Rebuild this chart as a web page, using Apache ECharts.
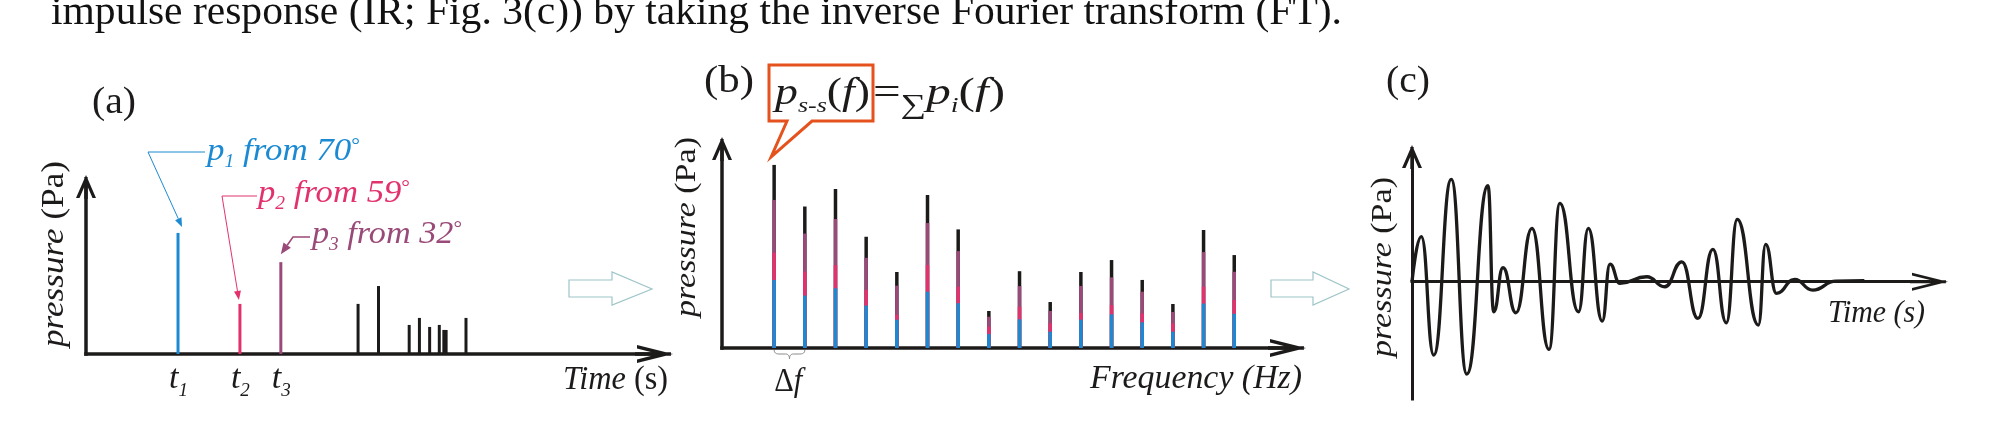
<!DOCTYPE html>
<html><head><meta charset="utf-8">
<script src="https://cdn.jsdelivr.net/npm/echarts@6/dist/echarts.min.js"></script>
<style>html,body{margin:0;padding:0;background:#fff}#c{width:2014px;height:423px}</style>
</head><body><div id="c"></div>
<script>
// ---------------- data ----------------
// (a) arrivals
const arrivalIndex = ['1', '2', '3'];
const arrivalAngles = ['70', '59', '32'];
const arrivalTimes = [16.2, 27.1, 34.3];
const arrivalAmps = [72.5, 30.0, 55.0];
const reflTimes = [47.9, 51.5, 56.9, 58.7, 60.5, 62.2, 63.0, 63.4, 66.9];
const reflAmps = [30.0, 40.7, 17.4, 21.6, 16.2, 17.4, 14.4, 14.4, 21.6];
// (b) spectrum components per frequency bin (units of Δf)
const freqBins = [1, 2, 3, 4, 5, 6, 7, 8, 9, 10, 11, 12, 13, 14, 15, 16];
const specP1 = [34.2, 26.3, 30.0, 21.3, 14.2, 28.3, 22.5, 7.0, 14.4, 8.2, 14.2, 16.9, 12.9, 8.2, 22.3, 17.2];
const specP2 = [13.7, 12.1, 11.7, 7.9, 2.5, 13.4, 8.3, 3.7, 6.3, 4.2, 3.4, 4.7, 4.5, 4.2, 8.5, 6.9];
const specP3 = [26.5, 19.1, 23.1, 16.1, 14.6, 21.1, 17.9, 5.0, 10.4, 6.2, 13.6, 13.9, 10.9, 5.7, 17.4, 14.2];
const specRest = [17.6, 13.6, 15.1, 10.6, 6.9, 14.1, 10.9, 2.9, 7.5, 4.5, 7.0, 8.7, 5.9, 4.0, 11.1, 8.4];
// (c) impulse response
const irTime = [0, 1.8, 4.2, 7.6, 10.6, 14.7, 15.8, 17.6, 20.1, 23.2, 26.5, 28.6, 32.2, 34.1, 36.8, 38.3, 40.2, 45.4, 48.9, 52.2, 55.3, 58.2, 60.8, 62.9, 67.0, 68.4, 70.5, 74.0, 77.5, 82.0, 87.5];
const irPressure = [0, 36.1, -58.8, 82.1, -74.0, 77.0, -24.1, 11.2, -24.9, 42.8, -54.2, 62.9, -24.1, 42.8, -31.5, 14.2, -1.3, 4.0, -4.0, 16.0, -29.4, 26.0, -32.9, 50.0, -34.7, 30.0, -9.3, 1.9, -6.7, 0.5, 0.8];

// ---------------- style ----------------
const INK = '#1d1a1a';
const BLUE = '#1b8ad3', PINK = '#e2326e', PURPLE = '#9a4a78', ORANGE = '#e5521d', HOLLOW = '#9fc5c8';
const FONT = '"Liberation Serif", "DejaVu Serif", serif';
const X_ARROW = 'path://M9,0 L18,36 L14.4,36 L9,14.4 L3.6,36 L0,36 Z M7.3,2 L10.7,2 L10.7,38 L7.3,38 Z';
const X_ARROW_THIN = 'path://M9,0 L18,36 L15.3,36 L9,10.8 L2.7,36 L0,36 Z M7.5,2 L10.5,2 L10.5,38 L7.5,38 Z';
const Y_ARROW = 'path://M10,0 L20,23 L16.5,23 L10,8 L3.5,23 L0,23 Z M8.3,2 L11.7,2 L11.7,24 L8.3,24 Z';

function axLine(sym, size, w, onZero) {
  return { show: true, onZero: !!onZero, symbol: ['none', sym], symbolSize: size,
    lineStyle: { color: INK, width: w, cap: 'square' } };
}
const hid = { axisTick: { show: false }, axisLabel: { show: false }, splitLine: { show: false } };

// cumulative heights so the four components sit on top of each other
const cum1 = specP1.slice();
const cum2 = cum1.map((v, i) => v + specP2[i]);
const cum3 = cum2.map((v, i) => v + specP3[i]);
const cum4 = cum3.map((v, i) => v + specRest[i]);
const specBar = (vals, color) => ({ type: 'bar', xAxisIndex: 1, yAxisIndex: 1, barWidth: 3.5, barGap: '-100%',
  itemStyle: { color: color }, data: freqBins.map((f, i) => [f, vals[i]]) });

const chart = echarts.init(document.getElementById('c'), null, { renderer: 'canvas', width: 2014, height: 423 });

const option = {
  animation: false,
  backgroundColor: '#fff',
  grid: [
    { left: 86, top: 187, width: 568, height: 167, outerBoundsMode: 'none' },
    { left: 722, top: 149, width: 565, height: 199, outerBoundsMode: 'none' },
    { left: 1412, top: 157, width: 517, height: 242, outerBoundsMode: 'none' }
  ],
  xAxis: [
    Object.assign({ gridIndex: 0, type: 'value', min: 0, max: 100, axisLine: axLine(X_ARROW, [18, 38], 3.5, false) }, hid),
    Object.assign({ gridIndex: 1, type: 'value', min: -0.7, max: 17.72, axisLine: axLine(X_ARROW, [18, 38], 3.5, false) }, hid),
    Object.assign({ gridIndex: 2, type: 'value', min: 0, max: 100, axisLine: axLine(X_ARROW_THIN, [18, 38], 3, true) }, hid)
  ],
  yAxis: [
    Object.assign({ gridIndex: 0, type: 'value', min: 0, max: 100, axisLine: axLine(Y_ARROW, [20, 24], 3.5, false) }, hid),
    Object.assign({ gridIndex: 1, type: 'value', min: 0, max: 100, axisLine: axLine(Y_ARROW, [20, 24], 3.5, false) }, hid),
    Object.assign({ gridIndex: 2, type: 'value', min: -94, max: 100, axisLine: axLine(Y_ARROW, [20, 24], 3, false) }, hid)
  ],
  series: [
    { type: 'bar', xAxisIndex: 0, yAxisIndex: 0, barWidth: 3, barGap: '-100%', itemStyle: { color: BLUE }, data: [[arrivalTimes[0], arrivalAmps[0]]] },
    { type: 'bar', xAxisIndex: 0, yAxisIndex: 0, barWidth: 3, barGap: '-100%', itemStyle: { color: PINK }, data: [[arrivalTimes[1], arrivalAmps[1]]] },
    { type: 'bar', xAxisIndex: 0, yAxisIndex: 0, barWidth: 3, barGap: '-100%', itemStyle: { color: PURPLE }, data: [[arrivalTimes[2], arrivalAmps[2]]] },
    { type: 'bar', xAxisIndex: 0, yAxisIndex: 0, barWidth: 3, barGap: '-100%', itemStyle: { color: INK }, data: reflTimes.map((t, i) => [t, reflAmps[i]]) },
    specBar(cum4, INK),
    specBar(cum3, PURPLE),
    specBar(cum2, PINK),
    specBar(cum1, BLUE),
    { type: 'line', xAxisIndex: 2, yAxisIndex: 2, smooth: 0.5, smoothMonotone: 'x', showSymbol: false, symbol: 'none',
      lineStyle: { color: INK, width: 3.3 }, data: irTime.map((t, i) => [t, irPressure[i]]) }
  ]
};
chart.setOption(option);

// ---------------- text & annotation helpers ----------------
const mctx = document.createElement('canvas').getContext('2d');
function fontStr(r) { return (r.it ? 'italic ' : '') + r.s + 'px ' + FONT; }
function textLine(x0, x1, base, runs, color) {
  const ws = runs.map(r => { mctx.font = fontStr(r); return mctx.measureText(r.t).width; });
  const W = ws.reduce((a, b) => a + b, 0);
  const k = (x1 != null) ? (x1 - x0) / W : 1;
  let x = x0; const out = [];
  runs.forEach((r, i) => {
    out.push({ type: 'text', x: x, y: base + (r.dy || 0) - 0.3375 * r.s, scaleX: k, silent: true,
      style: { text: r.t, font: fontStr(r), fill: r.c || color,
        textAlign: 'left', align: 'left', textVerticalAlign: 'middle', verticalAlign: 'middle' } });
    x += ws[i] * k;
  });
  return out;
}
function vLabel(bx, y0, y1, s) {
  return { type: 'group', x: bx, y: y0, rotation: Math.PI / 2,
    children: textLine(0, y0 - y1, 0, [{ t: 'pressure', s: s, it: true }, { t: ' (Pa)', s: s }], INK) };
}
function head(tip, from, len, half, color) {
  const dx = tip[0] - from[0], dy = tip[1] - from[1], d = Math.hypot(dx, dy), ux = dx / d, uy = dy / d;
  const bx = tip[0] - ux * len, by = tip[1] - uy * len;
  return [{ type: 'polygon', silent: true, shape: { points: [tip, [bx - uy * half, by + ux * half], [bx + uy * half, by - ux * half]] }, style: { fill: color } },
          [bx, by]];
}
function leader(start, elbow, tip, color, len, half, lw) {
  const h = head(tip, elbow, len, half, color);
  return [{ type: 'polyline', silent: true, shape: { points: [start, elbow, h[1]] }, style: { stroke: color, lineWidth: lw, fill: null } }, h[0]];
}
function quad(p0, c, p1, n) {
  const pts = [];
  for (let i = 0; i <= n; i++) {
    const t = i / n, a = (1 - t) * (1 - t), b = 2 * t * (1 - t), e = t * t;
    pts.push([a * p0[0] + b * c[0] + e * p1[0], a * p0[1] + b * c[1] + e * p1[1]]);
  }
  return pts;
}
const px = (g, x, y) => chart.convertToPixel({ gridIndex: g }, [x, y]);

const G = [];
// sentence above the figure
G.push(...textLine(51, 1342, 27, [{ t: 'impulse response (IR; Fig. 3(c)) by taking the inverse Fourier transform (FT).', s: 41 }], '#111'));
// panel letters
G.push(...textLine(92, 136, 116, [{ t: '(a)', s: 38 }], INK));
G.push(...textLine(704, 754, 95, [{ t: '(b)', s: 38 }], INK));
G.push(...textLine(1386, 1430, 95, [{ t: '(c)', s: 38 }], INK));
// y-axis names
G.push(vLabel(65, 347, 161, 31), vLabel(697, 317, 137, 29), vLabel(1393, 357, 177, 29));
// x-axis names
G.push(...textLine(563, 668, 391, [{ t: 'Time', s: 33, it: true }, { t: ' (s)', s: 33 }], INK));
G.push(...textLine(1090, 1302, 390, [{ t: 'Frequency (Hz)', s: 33, it: true }], INK));
G.push(...textLine(1828, 1925, 324, [{ t: 'Time (s)', s: 31, it: true }], INK));

// (a) t labels and arrival annotations
const arrColors = [BLUE, PINK, PURPLE];
const annText = [[207, 360, 162], [258, 410, 204], [312, 462, 245]];
const annStart = [[205, 152], [257, 196], [310, 237]];
const annElbow = [[148, 152], [222, 196], [293, 237]];
const tipOff = [[4, -6], [-1, -4], [0, -8]];
arrivalTimes.forEach((t, i) => {
  const base = px(0, t, 0), top = px(0, t, arrivalAmps[i]);
  G.push(...textLine(base[0] - 9, null, 391, [{ t: 't', s: 34, it: true }, { t: arrivalIndex[i], s: 19, it: true, dy: 6 }], INK));
  const a = annText[i];
  G.push(...textLine(a[0], a[1], a[2], [
    { t: 'p', s: 32, it: true }, { t: arrivalIndex[i], s: 18, it: true, dy: 6 },
    { t: ' from ' + arrivalAngles[i], s: 32, it: true }, { t: '°', s: 20, dy: -9 }], arrColors[i]));
  const tip = [top[0] + tipOff[i][0], top[1] + tipOff[i][1]];
  G.push(...leader(annStart[i], annElbow[i], tip, arrColors[i], i === 2 ? 11 : 9, i === 2 ? 4.5 : 3.5, i === 2 ? 1.6 : 1));
});

// hollow arrows between panels
function hollow(x0, xm, x1, yc) {
  return { type: 'polygon', silent: true, shape: { points: [[x0, yc - 9], [xm, yc - 9], [xm, yc - 17], [x1, yc], [xm, yc + 16], [xm, yc + 8], [x0, yc + 8]] },
    style: { fill: '#fff', stroke: HOLLOW, lineWidth: 1.2 } };
}
G.push(hollow(569, 612, 652, 289), hollow(1271, 1313, 1349, 289));

// (b) callout and formula
const b1 = px(1, freqBins[0], cum4[0]);
const tail = [b1[0] - 3, b1[1] - 8];
G.push({ type: 'polygon', silent: true, shape: { points: [[769, 65], [873, 65], [873, 121], [812, 121], tail, [787, 121], [769, 121]] },
  style: { fill: '#fff', stroke: ORANGE, lineWidth: 3, lineJoin: 'miter' } });
G.push(...textLine(775, 870, 107, [{ t: 'p', s: 37, it: true }, { t: 's-s', s: 21, it: true, dy: 7 },
  { t: '(', s: 37 }, { t: 'f', s: 37, it: true }, { t: ')', s: 37 }], INK));
G.push(...textLine(873, 1005, 107, [{ t: '=', s: 37 }, { t: '∑', s: 27, dy: 8 }, { t: 'p', s: 37, it: true }, { t: 'i', s: 21, it: true, dy: 7 },
  { t: '(', s: 37 }, { t: 'f', s: 37, it: true }, { t: ')', s: 37 }], INK));
// Δf brace
const f0 = px(1, freqBins[0], 0), f1 = px(1, freqBins[1], 0);
const xa = f0[0], xb = f1[0], xm = (xa + xb) / 2, y0 = f0[1] + 2, ym = y0 + 4, yt = y0 + 9;
const bracePts = [].concat(
  quad([xa, y0], [xa, ym], [xa + 5, ym], 6),
  quad([xm - 4, ym], [xm, ym], [xm, yt], 6),
  quad([xm, yt], [xm, ym], [xm + 4, ym], 6),
  quad([xb - 5, ym], [xb, ym], [xb, y0], 6));
G.push({ type: 'polyline', silent: true, shape: { points: bracePts }, style: { stroke: '#8a8a8a', lineWidth: 1, fill: null } });
G.push(...textLine(xa, xa + 28, 393, [{ t: 'Δ', s: 33 }, { t: 'f', s: 33, it: true }], INK));

chart.setOption({ graphic: { elements: G } });
</script>
</body></html>
